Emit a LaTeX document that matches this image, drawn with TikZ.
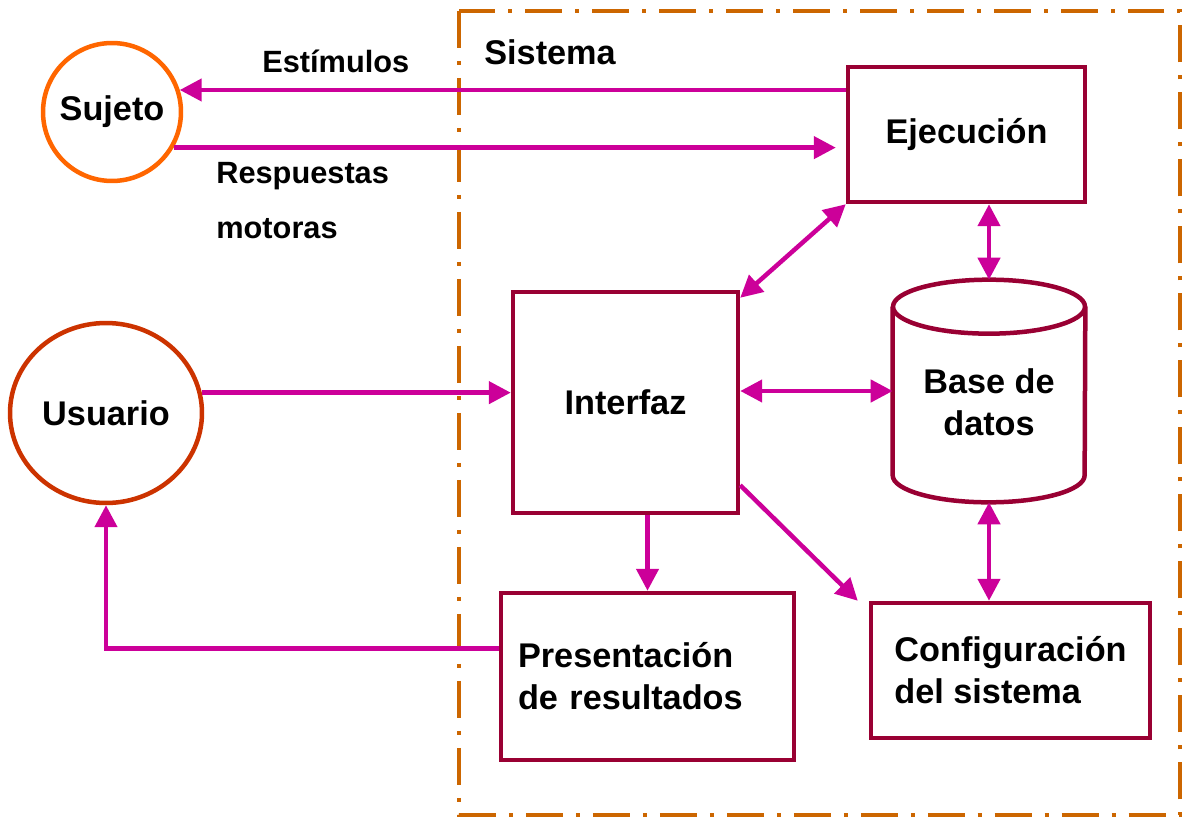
\documentclass[tikz,border=0pt]{standalone}
\usepackage{fontspec}
\setmainfont{Liberation Sans}
\usetikzlibrary{arrows.meta,shapes.geometric}
\definecolor{granate}{HTML}{990033}
\definecolor{rosa}{HTML}{CC0099}
\definecolor{naranja}{HTML}{FF6600}
\definecolor{rojizo}{HTML}{CC3300}
\definecolor{ocre}{HTML}{CC6600}
\newcommand\grande{\fontsize{19.5}{24}\selectfont\bfseries}
\newcommand\chico{\fontsize{17.5}{31}\selectfont\bfseries}

\begin{document}
\begin{tikzpicture}[x=0.02cm,y=-0.02cm,
    caja/.style={draw=granate,line width=0.09cm,inner sep=0pt,font=\grande},
    persona/.style={line width=0.09cm,inner sep=0pt,font=\grande},
    lbl/.style={inner sep=0pt,font=\chico},
    flecha/.style={rosa,line width=0.09cm,-{Triangle[length=0.44cm,width=0.44cm]}},
    dflecha/.style={rosa,line width=0.09cm,{Triangle[length=0.44cm,width=0.44cm]}-{Triangle[length=0.44cm,width=0.44cm]}},
    sistema/.style={ocre,line width=0.09cm,dash pattern=on 0.74cm off 0.26cm on 0.08cm off 0.26cm}]
    \useasboundingbox (0,0) rectangle (1182,818);
    % limite del sistema
    \draw[sistema] (459,11) rectangle (1180,815);
    \node[lbl,font=\grande,anchor=base west] (l-sis) at (484,64) {Sistema};
    % sujeto y usuario
    \node[persona,circle,draw=naranja,minimum size=2.76cm] (sj) at (112,112) {Sujeto};
    \node[persona,ellipse,draw=rojizo,minimum width=3.84cm,minimum height=3.6cm] (us) at (106,413) {Usuario};
    % bloques
    \node[caja,minimum width=4.74cm,minimum height=2.7cm] (ej) at (966.5,134.5) {Ejecución};
    \node[caja,minimum width=4.5cm,minimum height=4.42cm] (if) at (625.5,402.5) {Interfaz};
    \node[caja,minimum width=5.86cm,minimum height=3.34cm,text width=5.18cm,align=left] (pr) at (647.5,676.5) {Presentación\\de resultados};
    \node[caja,minimum width=5.58cm,minimum height=2.7cm,align=left] (cf) at (1010.5,670.5) {Configuración\\del sistema};
    \node[inner sep=0pt,minimum width=3.84cm,minimum height=4.44cm,font=\grande] (bd) at (989,391)
        {\raisebox{-0.3cm}[\height][\depth]{\begin{tabular}{@{}c@{}}Base de\\datos\end{tabular}}};
    % cilindro
    \draw[granate,line width=0.09cm] ([yshift=-0.54cm]bd.north west) -- ([yshift=0.54cm]bd.south west)
        arc[start angle=180,end angle=360,x radius=1.92cm,y radius=0.54cm] -- ([yshift=-0.54cm]bd.north east);
    \draw[granate,line width=0.09cm] ([yshift=-0.54cm]bd.north) ellipse[x radius=1.92cm,y radius=0.54cm];
    % flechas
    \draw[flecha] (sj.18 -| ej.west) -- (sj.18);
    \draw[flecha,shorten >=0.2cm] (sj.-30) -- (sj.-30 -| ej.west);
    \draw[dflecha] (ej.south west) -- ([yshift=-0.16cm]if.north east);
    \draw[dflecha] (bd.north |- ej.south) -- (bd.north);
    \draw[dflecha] (if.east |- bd.west) -- (bd.west);
    \draw[dflecha] (bd.south) -- (bd.south |- cf.north);
    \draw[flecha] (us.12) -- (us.12 -| if.west);
    \draw[flecha] (pr.north |- if.south) -- (pr.north);
    \draw[flecha] ([yshift=0.6cm]if.south east) -- ([xshift=-0.22cm]cf.north west);
    \draw[flecha] ([yshift=0.56cm]pr.west) -| (us.south);
    % etiquetas
    \node[lbl,anchor=base west] (l-est) at (262,72) {Estímulos};
    \node[lbl,anchor=base west,align=left] (l-resp) at (216,238) {Respuestas\\motoras};
\end{tikzpicture}
\end{document}
